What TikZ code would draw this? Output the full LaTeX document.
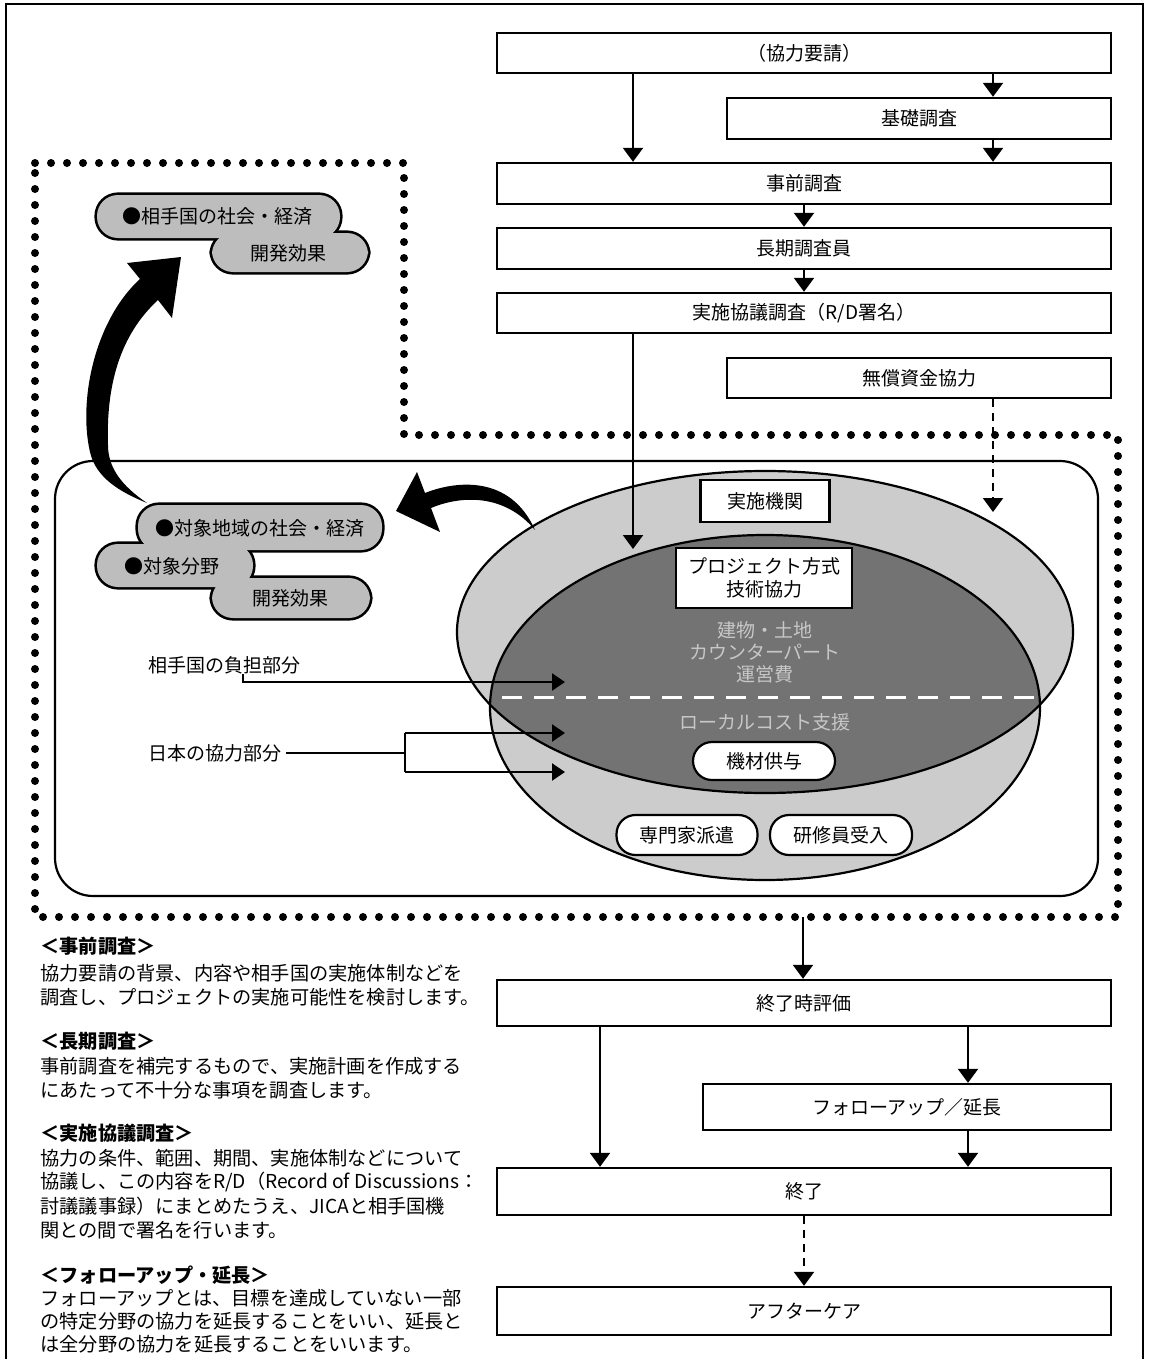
\documentclass[tikz,border=0pt]{standalone}
\usepackage{fontspec}
\setmainfont{Noto Sans CJK JP}
\usetikzlibrary{arrows.meta,calc}
\newcommand{\myfs}{\fontsize{9.5pt}{11.5pt}\selectfont}
\definecolor{lightfill}{gray}{0.80}
\definecolor{darkfill}{gray}{0.45}
\definecolor{cloudfill}{gray}{0.74}
\begin{document}
\begin{tikzpicture}[x=0.5pt,y=-0.5pt,
  flowbox/.style={draw,line width=1.2pt,fill=white,inner sep=0pt,font=\myfs},
  pill/.style={draw,line width=1.1pt,fill=white,rounded corners=9.5pt,inner sep=0pt,font=\myfs},
  farr/.style={line width=1.1pt,-{Triangle[width=10pt,length=7pt]}},
  dfarr/.style={farr,dash pattern=on 4pt off 3pt},
  larr/.style={line width=1.1pt,-{Triangle[width=8.5pt,length=6.5pt]}},
  txt/.style={font=\myfs,inner sep=0pt},
  intxt/.style={font=\myfs,inner sep=0pt,text=white!78!black},
  desc/.style={font=\fontsize{9.6pt}{12pt}\selectfont,inner sep=0pt,anchor=west},
  deschd/.style={desc,font=\fontsize{9.6pt}{12pt}\selectfont\bfseries}]
\useasboundingbox (0,0) rectangle (1149,1359);
\fill[white] (0,0) rectangle (1149,1359);
% outer frame
\draw[line width=1.2pt] (6,1359) -- (6,4) -- (1143,4) -- (1143,1359);
% dotted boundary
\draw[line width=4pt,line cap=round,dash pattern=on 0pt off 8pt]
  (35,163) -- (404,163) -- (404,435) -- (1118,435) -- (1118,917) -- (35,917) -- cycle;
% rounded rectangle
\draw[line width=1.1pt,fill=white,rounded corners=19pt] (55,461) rectangle (1098,896);
% ellipses
\fill[lightfill] (765,632) ellipse [x radius=154pt,y radius=80.5pt];
\fill[lightfill] (765,707.5) ellipse [x radius=137.5pt,y radius=86.25pt];
\begin{scope}
  \clip (765,632) ellipse [x radius=154pt,y radius=80.5pt];
  \fill[darkfill] (765,707.5) ellipse [x radius=137.5pt,y radius=86.25pt];
  \clip (765,707.5) ellipse [x radius=137.5pt,y radius=86.25pt];
  \draw[white,line width=1.5pt,dash pattern=on 10pt off 6pt] (470,697) -- (1070,697);
\end{scope}
\draw[line width=1.1pt] (765,632) ellipse [x radius=154pt,y radius=80.5pt];
\draw[line width=1.1pt] (765,707.5) ellipse [x radius=137.5pt,y radius=86.25pt];
% inner boxes and texts
\node[flowbox,minimum width=64.5pt,minimum height=21pt] (kikan) at (765,501) {実施機関};
\node[flowbox,minimum width=88pt,minimum height=30pt,align=center] (proj) at (764,578) {プロジェクト方式\\技術協力};
\node[intxt] (t1) at (765,630) {建物・土地};
\node[intxt] (t2) at (765,652) {カウンターパート};
\node[intxt] (t3) at (765,674) {運営費};
\node[intxt] (t4) at (765,722) {ローカルコスト支援};
\node[pill,minimum width=71pt,minimum height=19pt] (kizai) at (764,761) {機材供与};
\node[pill,minimum width=70.5pt,minimum height=20pt] (senmon) at (687,835) {専門家派遣};
\node[pill,minimum width=71pt,minimum height=20pt] (kenshu) at (841,835) {研修員受入};
% clouds (union outline)
\foreach \a/\b/\c/\d in {97/195/340/238, 212/233/368/272, 138/505/382/550, 97/544/253/587, 212/578/370/618}
  \draw[line width=2.6pt,fill=black,rounded corners=10.5pt] (\a,\b) rectangle (\c,\d);
\foreach \a/\b/\c/\d in {97/195/340/238, 212/233/368/272, 138/505/382/550, 97/544/253/587, 212/578/370/618}
  \fill[cloudfill,rounded corners=10.5pt] (\a,\b) rectangle (\c,\d);
\node[txt,anchor=west] (c1a) at (122,216) {●相手国の社会・経済};
\node[txt] (c1b) at (288,253) {開発効果};
\node[txt,anchor=west] (c2a) at (155,528) {●対象地域の社会・経済};
\node[txt,anchor=west] (c2b) at (124,566) {●対象分野};
\node[txt] (c2c) at (290,598) {開発効果};
% big curved arrows
\fill[black] (181,257) -- (127,263) -- (140,279) .. controls (95,320) and (78,400) .. (90,452)
  .. controls (96,478) and (120,492) .. (147,503) .. controls (122,486) and (108,468) .. (108,445)
  .. controls (106,385) and (120,335) .. (158,300) -- (172,318) -- cycle;
\fill[black] (396,511) -- (417,472) -- (425,493) .. controls (455,481) and (510,474) .. (535,530)
  .. controls (505,494) and (462,495) .. (431,508) -- (440,532) -- cycle;
% left labels
\node[txt,anchor=west] (lbl1) at (148,665) {相手国の負担部分};
\node[txt,anchor=west] (lbl2) at (148,753) {日本の協力部分};
\coordinate (k1) at (243,682);
\coordinate (e1) at (565,682);
\draw[larr] (lbl1.south -| k1) -- (k1) -- (e1);
\coordinate (br1) at (405,733);
\coordinate (br2) at (405,772);
\coordinate (e2) at (565,733);
\coordinate (e3) at (565,772);
\draw[line width=1.1pt] ([xshift=2pt]lbl2.east) -- (lbl2.east -| br1);
\draw[line width=1.1pt] (br1) -- (br2);
\draw[larr] (br1) -- (e2);
\draw[larr] (br2) -- (e3);
% flow boxes
\node[flowbox,minimum width=307pt,minimum height=20pt] (b1) at (804,53) {（協力要請）};
\node[flowbox,minimum width=192pt,minimum height=20.5pt] (b2) at (919,118.5) {基礎調査};
\node[flowbox,minimum width=307pt,minimum height=20.5pt] (b3) at (804,183.5) {事前調査};
\node[flowbox,minimum width=307pt,minimum height=20.5pt] (b4) at (804,248.5) {長期調査員};
\node[flowbox,minimum width=307pt,minimum height=20pt] (b5) at (804,313) {実施協議調査（R/D署名）};
\node[flowbox,minimum width=192pt,minimum height=20pt] (b6) at (919,378) {無償資金協力};
\node[flowbox,minimum width=307pt,minimum height=23pt] (b7) at (804,1003) {終了時評価};
\node[flowbox,minimum width=204pt,minimum height=23pt] (b8) at (907,1107) {フォローアップ／延長};
\node[flowbox,minimum width=307pt,minimum height=23.5pt] (b9) at (804,1191.5) {終了};
\node[flowbox,minimum width=307pt,minimum height=24pt] (b10) at (804,1311) {アフターケア};
% flow arrows
\coordinate (xa) at (633,0);
\coordinate (xb) at (993,0);
\coordinate (xd) at (600,0);
\coordinate (xe) at (968,0);
\coordinate (ptop) at (633,549);
\coordinate (pgr) at (993,512);
\coordinate (dbot) at (803,917);
\draw[farr] (b1.south -| xa) -- (b3.north -| xa);
\draw[farr] (b1.south -| xb) -- (b2.north -| xb);
\draw[farr] (b2.south -| xb) -- (b3.north -| xb);
\draw[farr] (b3.south) -- (b4.north);
\draw[farr] (b4.south) -- (b5.north);
\draw[farr] (b5.south -| xa) -- (ptop);
\draw[dfarr] (b6.south -| xb) -- (pgr);
\draw[farr] (dbot) -- (b7.north -| dbot);
\draw[farr] (b7.south -| xd) -- (b9.north -| xd);
\draw[farr] (b7.south -| xe) -- (b8.north -| xe);
\draw[farr] (b8.south -| xe) -- (b9.north -| xe);
\draw[dfarr] (b9.south) -- (b10.north);
% description text
\node[deschd] (h1) at (40,946) {＜事前調査＞};
\node[desc] (d11) at (40,973) {協力要請の背景、内容や相手国の実施体制などを};
\node[desc] (d12) at (40,997) {調査し、プロジェクトの実施可能性を検討します。};
\node[deschd] (h2) at (40,1041) {＜長期調査＞};
\node[desc] (d21) at (40,1066) {事前調査を補完するもので、実施計画を作成する};
\node[desc] (d22) at (40,1090) {にあたって不十分な事項を調査します。};
\node[deschd] (h3) at (40,1133) {＜実施協議調査＞};
\node[desc] (d31) at (40,1158) {協力の条件、範囲、期間、実施体制などについて};
\node[desc] (d32) at (40,1182) {協議し、この内容をR/D（Record of Discussions：};
\node[desc] (d33) at (40,1206) {討議議事録）にまとめたうえ、JICAと相手国機};
\node[desc] (d34) at (40,1230) {関との間で署名を行います。};
\node[deschd] (h4) at (40,1275) {＜フォローアップ・延長＞};
\node[desc] (d41) at (40,1298) {フォローアップとは、目標を達成していない一部};
\node[desc] (d42) at (40,1321) {の特定分野の協力を延長することをいい、延長と};
\node[desc] (d43) at (40,1344) {は全分野の協力を延長することをいいます。};
\end{tikzpicture}
\end{document}
